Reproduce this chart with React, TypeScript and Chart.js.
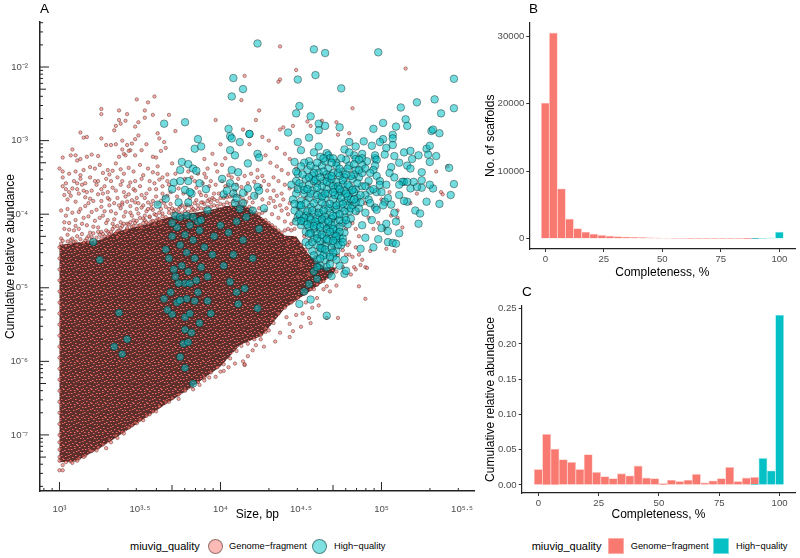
import React, { useEffect, useRef } from "react";
import { Chart, registerables } from "chart.js";
Chart.register(...registerables);

// Panel A values are log10(size), log10(abundance).
const denseCloudEnvelope = [
  [3.0,-4.42],[3.12,-4.38],[3.25,-4.35],[3.35,-4.24],[3.44,-4.19],[3.55,-4.13],[3.66,-4.05],[3.77,-4.0],[3.87,-3.97],[3.96,-3.93],[4.03,-3.89],[4.15,-3.88],[4.26,-4.05],[4.4,-4.29],[4.47,-4.3],[4.55,-4.55],[4.65,-4.72],[4.72,-4.72],[4.7,-4.82],[4.65,-4.9],[4.52,-5.1],[4.4,-5.28],[4.26,-5.65],[4.12,-5.78],[4.0,-6.07],[3.81,-6.37],[3.62,-6.64],[3.44,-6.91],[3.25,-7.18],[3.1,-7.36],[3.0,-7.37],[3.0,-4.42],
];
const fragmentUpper = [
  [3.13,-2.89],[3.15,-2.96],[3.17,-2.95],[3.02,-3.23],[3.08,-3.12],[3.07,-3.2],[3.1,-3.2],[3.11,-3.27],[3.13,-3.25],[3.17,-3.22],[3.2,-3.19],[3.24,-3.21],[3.26,-2.97],[3.26,-2.57],[3.26,-2.64],[3.32,-3.06],[3.29,-3.06],[3.35,-3.05],[3.37,-2.59],[3.37,-2.72],[3.42,-2.64],[3.38,-2.77],[3.41,-2.73],[3.35,-2.8],[3.34,-2.86],[3.39,-3.0],[3.42,-3.06],[3.48,-2.44],[3.55,-2.48],[3.59,-2.4],[3.53,-2.59],[3.53,-2.69],[3.58,-2.65],[3.68,-2.65],[3.49,-2.75],[3.47,-2.81],[3.47,-2.98],[3.49,-2.93],[3.54,-3.05],[3.61,-2.9],[3.62,-2.97],[3.65,-3.02],[3.72,-2.87],[3.97,-2.72],[3.58,-3.22],[3.6,-3.23],[3.66,-3.1],[3.63,-3.14],[3.44,-3.13],[3.47,-3.2],[3.51,-3.13],[3.39,-3.12],[3.4,-3.18],[3.37,-3.22],[3.41,-3.2],[3.43,-3.14],[3.45,-3.04],
  [3.0,-3.38],[3.02,-3.42],[3.06,-3.45],[3.1,-3.42],[3.13,-3.47],[3.15,-3.4],[3.19,-3.36],[3.22,-3.38],[3.25,-3.33],[3.27,-3.44],[3.3,-3.4],[3.31,-3.46],[3.33,-3.41],[3.35,-3.31],[3.38,-3.39],[3.4,-3.45],[3.43,-3.37],[3.46,-3.42],[3.5,-3.33],[3.52,-3.47],[3.55,-3.38],[3.58,-3.43],[3.61,-3.35],[3.64,-3.5],[3.67,-3.46],[3.7,-3.31],[3.9,-3.25],[3.95,-3.18],[3.97,-3.32],[4.0,-3.05],[4.03,-3.24],
  [3.02,-3.62],[3.03,-3.74],[3.05,-3.8],[3.08,-3.65],[3.1,-3.83],[3.12,-3.72],[3.14,-3.6],[3.16,-3.77],[3.18,-3.85],[3.2,-3.68],[3.22,-3.55],[3.24,-3.73],[3.26,-3.82],[3.28,-3.62],[3.3,-3.7],[3.32,-3.55],[3.34,-3.85],[3.36,-3.78],[3.38,-3.6],[3.4,-3.7],[3.42,-3.83],[3.44,-3.57],[3.46,-3.66],[3.48,-3.78],[3.5,-3.62],[3.52,-3.88],[3.54,-3.72],[3.56,-3.55],[3.58,-3.82],[3.6,-3.66],[3.62,-3.53],[3.64,-3.72],[3.66,-3.9],[3.68,-3.6],[3.04,-3.58],[3.07,-3.75],[3.11,-3.58],[3.15,-3.68],[3.19,-3.79],[3.23,-3.6],[3.27,-3.72],[3.31,-3.8],[3.35,-3.68],[3.39,-3.87],[3.43,-3.73],[3.47,-3.55],[3.51,-3.74],[3.55,-3.84],[3.59,-3.58],[3.63,-3.82],[3.9,-3.45],[3.94,-3.55],[3.98,-3.42],[4.03,-3.62],[3.96,-3.72],[3.93,-3.8],[3.92,-3.38],[4.01,-3.33],[4.05,-3.47],[4.1,-3.6],[3.82,-3.5],[3.85,-3.64],[3.88,-3.74],
  [3.01,-3.95],[3.04,-4.02],[3.06,-4.12],[3.08,-3.98],[3.1,-4.08],[3.12,-4.2],[3.13,-3.93],[3.15,-4.05],[3.17,-4.15],[3.19,-4.25],[3.2,-3.97],[3.22,-4.09],[3.24,-4.18],[3.26,-3.9],[3.27,-4.02],[3.29,-4.12],[3.3,-4.24],[3.32,-3.96],[3.34,-4.07],[3.36,-4.16],[3.38,-3.92],[3.4,-4.03],[3.42,-4.13],[3.44,-3.98],[3.46,-4.08],[3.48,-3.93],[3.5,-4.05],[3.52,-4.12],[3.54,-3.96],[3.56,-4.04],[3.58,-3.94],[3.6,-4.09],[3.62,-3.98],[3.64,-4.03],[3.03,-4.2],[3.05,-4.28],[3.07,-4.35],[3.09,-4.22],[3.11,-4.3],[3.14,-4.27],[3.16,-4.36],[3.18,-4.3],[3.21,-4.26],[3.23,-4.32],[3.25,-4.28],[3.28,-4.3],[3.31,-4.27],[3.33,-4.2],[3.35,-4.26],[3.37,-4.22],[3.39,-4.16],[3.41,-4.23],[3.43,-4.14],[3.45,-4.17],[3.47,-4.12],[3.49,-4.16],[3.51,-4.18],[3.53,-4.08],[3.55,-4.13],[3.57,-4.1],[3.59,-4.14],[3.61,-4.06],[3.63,-4.12],
  [3.68,-3.98],[3.7,-3.92],[3.72,-4.0],[3.74,-3.93],[3.76,-3.99],[3.78,-3.91],[3.8,-3.97],[3.82,-3.9],[3.84,-3.95],[3.86,-3.88],[3.88,-3.92],[3.9,-3.86],[3.92,-3.9],[3.94,-3.84],[3.96,-3.88],[3.98,-3.82],[4.0,-3.86],[4.02,-3.78],[4.04,-3.84],[4.06,-3.76],[4.08,-3.82],[4.1,-3.75],[4.12,-3.85],[4.14,-3.8],[4.16,-3.72],[4.18,-3.78],[4.2,-3.84],[4.22,-3.75],[4.24,-3.92],[4.26,-3.8],[4.28,-3.95],[4.3,-3.85],[4.32,-4.0],[4.34,-3.9],[4.36,-4.05],[4.38,-3.95],[4.4,-4.1],[4.42,-4.0],
];
const fragmentUpperExtra = [
  [3.01,-4.33],[3.03,-4.11],[3.05,-3.93],[3.06,-4.21],[3.09,-4.38],[3.1,-4.16],[3.12,-3.97],[3.14,-4.13],[3.16,-3.89],[3.18,-4.03],[3.2,-4.35],[3.21,-4.17],[3.23,-3.94],[3.25,-4.05],[3.26,-4.24],[3.28,-3.96],[3.3,-4.08],[3.31,-3.88],[3.33,-4.13],[3.35,-3.99],[3.36,-4.31],[3.38,-4.11],[3.39,-3.84],[3.41,-3.97],[3.42,-4.21],[3.44,-3.89],[3.45,-4.02],[3.47,-3.84],[3.49,-3.99],[3.51,-3.91],[3.53,-4.02],[3.55,-3.93],[3.57,-3.87],[3.59,-4.0],[3.61,-3.86],[3.63,-3.93],[3.65,-3.85],[3.67,-3.75],[3.69,-3.86],[3.71,-3.96],[3.73,-3.76],[3.75,-3.9],[3.77,-3.72],[3.79,-3.87],[3.81,-3.78],[3.83,-3.93],[3.85,-3.81],[3.87,-3.7],[3.89,-3.84],[3.91,-3.75],[3.93,-3.62],[3.95,-3.78],[3.97,-3.6],[3.99,-3.72],[4.01,-3.55],[4.03,-3.75],[4.05,-3.6],[4.07,-3.5],[4.09,-3.68],[4.11,-3.52],[4.13,-3.63],[4.15,-3.48],[4.17,-3.58],[4.19,-3.45],[4.21,-3.56],[4.23,-3.5],[4.25,-3.62],[4.27,-3.55],[4.29,-3.68],[4.31,-3.78],[4.33,-3.82],[4.35,-3.75],[4.37,-3.88],[4.39,-3.8],[4.41,-3.92],[4.43,-3.85],
  [3.02,-3.5],[3.04,-3.66],[3.06,-3.7],[3.09,-3.55],[3.11,-3.66],[3.13,-3.52],[3.16,-3.58],[3.17,-3.7],[3.19,-3.5],[3.21,-3.82],[3.24,-3.55],[3.26,-3.66],[3.29,-3.52],[3.3,-3.78],[3.33,-3.64],[3.36,-3.5],[3.37,-3.88],[3.39,-3.55],[3.41,-3.76],[3.43,-3.62],[3.45,-3.81],[3.47,-3.68],[3.49,-3.85],[3.51,-3.52],[3.53,-3.78],[3.56,-3.66],[3.57,-3.92],[3.6,-3.76],[3.61,-3.45],[3.64,-3.62],[3.65,-3.78],[3.67,-3.55],[3.69,-3.7],[3.72,-3.45],[3.74,-3.65],[3.78,-3.52],[3.8,-3.42],[3.84,-3.55],[3.86,-3.45],[3.89,-3.58],[3.91,-3.5],
];
const fragmentEdge = [
  [3.01,-4.4],[3.02,-4.36],[3.04,-4.43],[3.05,-4.37],[3.07,-4.4],[3.08,-4.33],[3.1,-4.37],[3.11,-4.42],[3.13,-4.34],[3.15,-4.39],[3.17,-4.33],[3.18,-4.38],[3.2,-4.31],[3.22,-4.37],[3.24,-4.24],[3.26,-4.33],[3.27,-4.27],[3.29,-4.22],[3.3,-4.3],[3.32,-4.24],[3.34,-4.17],[3.36,-4.23],[3.38,-4.19],[3.4,-4.13],[3.42,-4.19],[3.44,-4.11],[3.46,-4.16],[3.48,-4.09],[3.5,-4.15],[3.52,-4.06],[3.54,-4.11],[3.56,-4.03],[3.58,-4.09],[3.6,-4.01],[3.62,-4.07],[3.64,-3.99],[3.66,-4.04],[3.68,-3.93],[3.7,-4.0],[3.72,-3.94],[3.74,-3.98],[3.76,-3.88],[3.78,-3.96],[3.8,-3.88],[3.82,-3.95],[3.84,-3.85],[3.86,-3.93],[3.88,-3.84],[3.9,-3.93],[3.92,-3.82],[3.94,-3.9],[3.96,-3.8],[3.98,-3.89],[4.0,-3.78],[4.02,-3.87],[4.04,-3.77],[4.06,-3.86],[4.08,-3.74],[4.1,-3.85],[4.12,-3.76],[4.14,-3.86],[4.16,-3.83],[4.18,-3.9],[4.2,-3.93],[4.22,-3.98],[4.24,-4.0],[4.26,-3.98],[4.28,-4.08],[4.3,-4.12],[4.32,-4.15],[4.34,-4.18],[4.36,-4.22],[4.38,-4.25],[4.4,-4.22],[4.42,-4.2],[4.44,-4.13],[4.46,-4.08],[4.48,-4.04],
  [3.0,-4.45],[3.0,-4.6],[3.0,-4.75],[3.0,-4.9],[3.0,-5.05],[3.0,-5.2],[3.0,-5.35],[3.0,-5.5],[3.0,-5.65],[3.0,-5.8],[3.0,-5.95],[3.0,-6.1],[3.0,-6.25],[3.0,-6.4],[3.0,-6.55],[3.0,-6.7],[3.0,-6.85],[3.0,-7.0],[3.0,-7.1],[3.0,-7.2],[3.0,-7.3],[3.0,-7.35],
  [3.04,-7.37],[3.07,-7.36],[3.12,-7.32],[3.16,-7.28],[3.2,-7.22],[3.24,-7.17],[3.27,-7.13],[3.31,-7.07],[3.35,-7.01],[3.39,-6.96],[3.43,-6.9],[3.47,-6.83],[3.5,-6.79],[3.54,-6.74],[3.58,-6.68],[3.62,-6.61],[3.66,-6.55],[3.7,-6.5],[3.74,-6.45],[3.78,-6.38],[3.82,-6.34],[3.86,-6.28],[3.9,-6.22],[3.94,-6.15],[3.98,-6.08],[4.02,-6.04],[4.06,-5.96],[4.1,-5.86],[4.13,-5.79],[4.17,-5.76],[4.21,-5.7],[4.25,-5.64],[4.28,-5.55],[4.32,-5.42],[4.36,-5.35],[4.4,-5.27],[4.44,-5.2],[4.48,-5.13],[4.52,-5.08],[4.56,-5.02],[4.6,-4.96],[4.64,-4.91],[4.68,-4.84],[4.72,-4.78],[4.76,-4.72],[4.8,-4.55],
];
const fragmentRight = [
  [4.15,-2.12],[4.37,-1.72],[4.47,-2.04],[4.37,-2.17],[4.36,-2.2],[4.13,-2.45],[4.24,-2.59],[4.22,-2.72],[4.14,-2.85],[4.18,-3.05],[4.26,-2.95],[4.37,-2.85],[4.39,-2.82],[4.45,-2.8],[4.54,-2.74],[4.56,-2.8],[4.63,-2.73],[4.72,-2.75],[4.73,-2.92],[4.8,-2.9],[4.82,-2.56],[5.15,-2.02],[4.3,-3.0],[4.35,-3.1],[4.28,-3.2],[4.31,-3.3],[4.35,-3.35],[4.4,-3.18],[4.43,-3.25],[4.38,-3.4],[4.42,-3.45],[4.47,-3.38],[4.33,-3.5],[4.3,-3.6],[4.36,-3.55],[4.4,-3.6],[4.26,-3.48],[4.23,-3.4],[4.33,-3.68],[4.38,-3.72],[4.43,-3.65],
  [5.34,-3.42],[5.41,-3.35],[5.37,-3.7],[5.38,-3.73],[5.22,-3.72],[5.18,-3.85],[5.1,-3.95],[5.06,-4.02],[5.1,-4.05],[5.13,-4.18],[5.02,-4.2],[5.08,-4.5],[5.03,-4.47],[4.95,-4.2],[4.98,-4.12],[4.93,-4.5],[4.88,-4.62],[4.9,-4.72],[4.91,-4.73],[4.86,-4.55],[4.83,-4.72],[4.84,-4.45],[4.92,-4.05],[4.95,-3.9],[5.0,-3.8],[5.05,-3.7],
  [4.46,-4.35],[4.44,-4.22],[4.42,-4.4],[4.47,-4.5],[4.44,-4.62],[4.5,-4.7],[4.48,-4.85],[4.55,-4.82],[4.82,-4.58],[4.86,-4.3],[4.82,-4.12],[4.9,-3.85],[4.85,-3.98],[4.92,-3.6],[4.78,-4.55],[4.8,-4.38],[4.6,-4.95],[4.64,-5.02],
  [4.5,-4.42],[4.53,-4.48],[4.56,-4.36],[4.59,-4.58],[4.61,-4.47],[4.64,-4.38],[4.67,-4.64],[4.7,-4.46],[4.73,-4.56],[4.76,-4.49],[4.79,-4.42],[4.52,-4.3],[4.57,-4.24],[4.61,-4.3],[4.66,-4.16],[4.7,-4.08],[4.74,-4.14],[4.78,-4.2],[4.46,-4.2],[4.5,-4.06],[4.55,-3.98],[4.6,-3.95],[4.48,-3.92],[4.53,-3.78],[4.47,-3.66],[4.63,-3.46],[4.72,-3.6],[4.8,-3.85],[4.84,-4.2],[4.49,-4.6],
];
const fragmentLower = [
  [4.66,-5.41],[4.73,-5.41],[4.9,-5.15],[4.86,-4.98],[4.87,-4.69],[4.84,-4.75],[4.81,-4.82],[4.72,-4.97],[4.61,-5.24],[4.56,-5.48],[4.55,-5.41],[4.5,-5.53],[4.45,-5.59],[4.43,-5.67],[4.34,-5.73],[4.27,-5.8],[4.37,-5.61],[4.17,-5.93],[4.15,-6.05],[4.14,-6.0],[4.2,-5.85],[4.3,-5.58],[4.28,-5.6],[4.43,-5.49],[4.47,-5.37],[4.51,-5.35],[4.57,-5.27],[4.6,-5.14],[4.62,-4.92],[4.68,-5.05],[4.66,-4.98],[4.58,-5.02],[4.53,-5.2],[4.41,-5.4],[4.33,-5.48],[4.25,-5.7],[4.22,-5.78],
  [3.74,-6.51],[3.52,-6.8],[3.48,-6.84],[3.45,-6.87],[3.29,-7.18],[3.23,-7.21],[3.19,-7.21],[3.11,-7.35],[3.0,-7.48],[3.02,-7.48],[3.02,-7.41],[4.02,-6.13],[4.15,-6.04],[4.09,-6.03],[3.97,-6.21],[3.9,-6.26],[3.87,-6.32],[3.83,-6.38],[3.78,-6.4],[3.68,-6.55],[3.6,-6.68],[3.56,-6.72],[3.4,-6.98],[3.36,-7.04],[3.32,-7.1],[3.15,-7.3],[3.08,-7.38],[4.05,-6.08],[4.0,-6.14],[3.93,-6.22],
];
const highUpper = [
  [4.23,-1.68],[4.08,-2.15],[4.14,-2.3],[4.07,-2.4],[3.65,-2.77],[3.78,-2.75],[4.05,-2.84],[3.86,-2.98],[3.84,-3.11],[3.88,-3.08],[4.06,-2.94],[4.07,-2.97],[4.12,-3.02],[4.18,-2.91],[4.06,-3.13],[4.09,-3.2],[4.17,-3.31],[4.23,-3.18],[4.24,-3.23],[3.76,-3.29],[3.8,-3.32],[3.83,-3.38],[3.85,-3.41],[3.75,-3.4],[3.71,-3.57],[3.75,-3.55],[3.8,-3.55],[3.87,-3.58],[4.07,-3.4],[4.11,-3.43],[4.01,-3.52],[4.06,-3.58],[4.09,-3.63],[4.08,-3.72],[3.7,-3.66],[3.78,-3.67],[3.82,-3.72],[3.81,-3.7],[3.91,-3.66],[3.66,-3.79],[3.61,-3.87],[3.74,-3.84],[3.8,-3.84],[4.02,-3.73],[4.14,-3.71],[4.23,-3.63],[4.09,-3.85],[3.72,-4.02],[3.75,-4.04],[3.79,-4.02],[3.83,-4.04],[3.92,-3.95],[4.14,-3.85],[3.88,-4.08],[4.04,-3.68],[4.1,-3.78],[4.17,-3.65],[4.21,-3.75],[4.24,-3.68],[4.27,-3.92],[4.2,-3.95],[4.12,-3.93],[4.16,-4.04],
];
const highMid = [
  [3.69,-5.06],[3.78,-5.4],[3.81,-5.35],[3.87,-5.48],[3.78,-5.57],[3.82,-5.61],[3.77,-5.76],[3.8,-5.74],[3.75,-5.94],[3.78,-6.09],[3.83,-6.3],[3.42,-5.7],[3.34,-5.8],[3.39,-5.9],[3.37,-5.34],[3.65,-5.15],[3.7,-5.36],[3.67,-5.3],[3.73,-5.2],[3.79,-5.15],[3.84,-5.18],[3.92,-5.18],[3.94,-5.35],[3.78,-4.94],[3.81,-4.94],[3.74,-4.94],[3.86,-5.06],[3.75,-5.17],[4.11,-5.22],[4.1,-5.06],[4.06,-4.92],[4.15,-5.01],[4.23,-5.28],[3.72,-4.85],[3.76,-4.7],[3.8,-4.78],[3.85,-4.9],[3.68,-4.6],[3.71,-4.75],[3.66,-4.48],[3.7,-4.3],[3.75,-4.42],[3.79,-4.52],[3.84,-4.6],[3.88,-4.72],[3.92,-4.85],[3.73,-4.18],[3.78,-4.28],[3.83,-4.35],[3.87,-4.22],[3.9,-4.45],[3.95,-4.55],[3.7,-4.12],[3.81,-4.15],[3.86,-4.1],[4.05,-4.25],[4.08,-4.55],[4.02,-4.7],[4.14,-4.35],[4.2,-4.6],[4.24,-4.2],[4.1,-4.1],[3.25,-4.62],[3.21,-4.38],[4.0,-4.15],[3.96,-4.3],
];
const highCluster = [
  [4.58,-1.76],[4.65,-1.81],[4.98,-1.8],[4.48,-2.17],[4.59,-2.11],[4.75,-2.29],[4.49,-2.53],[4.47,-2.63],[4.56,-2.67],[4.61,-2.77],[4.65,-2.8],[4.61,-2.86],[4.74,-2.82],[4.18,-2.91],[4.42,-2.89],[4.55,-2.96],[4.48,-3.02],[4.5,-3.13],[4.58,-3.16],[4.61,-3.08],[4.8,-3.02],[4.84,-3.08],[4.77,-3.12],[4.89,-3.01],[4.94,-3.07],
  [4.66,-3.17],[4.67,-3.2],[4.68,-3.24],[4.62,-3.22],[4.55,-3.28],[4.52,-3.3],[4.46,-3.29],[4.5,-3.35],[4.54,-3.4],[4.59,-3.38],[4.63,-3.34],[4.67,-3.38],[4.72,-3.3],[4.72,-3.34],[4.76,-3.42],[4.78,-3.26],[4.83,-3.2],[4.84,-3.25],[4.88,-3.18],[4.88,-3.24],[4.91,-3.28],[4.96,-3.24],[4.96,-3.2],[4.97,-3.26],[4.8,-3.34],[4.84,-3.4],[4.88,-3.33],[4.96,-3.34],[4.95,-3.4],[4.97,-3.48],[4.92,-3.55],[4.99,-3.55],[4.99,-3.6],[4.86,-3.5],[4.82,-3.52],[4.77,-3.5],[4.74,-3.48],[4.7,-3.44],[4.66,-3.46],[4.61,-3.44],[4.57,-3.48],[4.53,-3.52],[4.47,-3.55],[4.44,-3.6],[4.49,-3.58],[4.55,-3.6],[4.6,-3.58],[4.64,-3.55],[4.68,-3.58],[4.72,-3.56],[4.76,-3.6],[4.8,-3.62],[4.84,-3.66],[4.88,-3.62],[4.93,-3.68],[4.97,-3.7],[4.9,-3.74],[4.85,-3.78],[4.8,-3.72],[4.75,-3.7],[4.71,-3.66],[4.66,-3.66],[4.62,-3.7],[4.57,-3.68],[4.52,-3.72],[4.47,-3.72],[4.45,-3.8],[4.5,-3.82],[4.55,-3.78],[4.6,-3.8],[4.65,-3.78],[4.7,-3.8],[4.74,-3.84],[4.78,-3.82],[4.82,-3.88],[4.86,-3.92],[4.8,-3.96],[4.75,-3.92],[4.7,-3.9],[4.65,-3.88],[4.61,-3.92],[4.56,-3.9],[4.51,-3.94],[4.46,-3.95],[4.48,-4.04],[4.53,-4.02],[4.58,-4.0],[4.63,-4.0],[4.68,-3.98],[4.72,-4.02],[4.77,-4.04],[4.81,-4.06],[4.76,-4.12],[4.71,-4.12],[4.66,-4.08],[4.61,-4.1],[4.56,-4.12],[4.5,-4.15],[4.53,-4.24],[4.58,-4.2],[4.62,-4.22],[4.67,-4.18],[4.72,-4.22],[4.77,-4.25],[4.74,-4.32],[4.69,-4.3],[4.64,-4.32],[4.58,-4.32],[4.53,-4.38],[4.6,-4.42],[4.65,-4.42],[4.7,-4.4],[4.75,-4.42],[4.72,-4.5],[4.67,-4.52],[4.62,-4.52],[4.57,-4.5],[4.6,-4.62],[4.65,-4.62],[4.7,-4.58],[4.66,-4.72],[4.62,-4.7],[4.58,-4.78],[4.77,-4.62],[4.74,-4.7],[4.69,-4.84],[4.77,-4.81],[4.78,-4.77],[4.49,-5.22],[4.56,-5.16],[4.66,-5.38],[4.55,-4.95],[4.52,-5.05],[4.6,-4.88],
  [4.48,-3.45],[4.51,-3.62],[4.58,-3.55],[4.63,-3.62],[4.67,-3.5],[4.7,-3.62],[4.73,-3.74],[4.77,-3.68],[4.81,-3.8],[4.83,-3.7],[4.87,-3.84],[4.9,-3.62],[4.92,-3.8],[4.95,-3.66],[4.49,-3.88],[4.53,-3.85],[4.58,-3.85],[4.63,-3.84],[4.67,-3.92],[4.72,-3.94],[4.77,-3.96],[4.79,-3.88],[4.84,-3.84],[4.47,-4.1],[4.52,-4.1],[4.55,-4.04],[4.6,-4.05],[4.65,-4.03],[4.69,-4.06],[4.74,-4.08],[4.79,-4.14],[4.55,-4.18],[4.6,-4.15],[4.64,-4.14],[4.69,-4.15],[4.74,-4.17],[4.55,-4.27],[4.6,-4.27],[4.66,-4.26],[4.71,-4.27],[4.76,-4.33],[4.55,-4.42],[4.62,-4.37],[4.67,-4.36],[4.72,-4.35],[4.58,-4.56],[4.63,-4.46],[4.69,-4.46],[4.73,-4.42],[4.64,-4.56],[4.7,-4.52],[4.6,-4.72],[4.68,-4.68],[4.72,-4.62],[4.56,-3.34],[4.6,-3.3],[4.65,-3.28],[4.7,-3.24],[4.75,-3.24],[4.79,-3.38],[4.83,-3.46],[4.88,-3.44],[4.9,-3.38],[4.93,-3.44],[4.86,-3.26],[4.8,-3.16],[4.64,-3.42],[4.58,-3.44],
  [4.47,-3.42],[4.51,-3.46],[4.55,-3.5],[4.59,-3.53],[4.62,-3.5],[4.66,-3.56],[4.69,-3.52],[4.73,-3.62],[4.76,-3.54],[4.79,-3.6],[4.82,-3.67],[4.85,-3.58],[4.48,-3.66],[4.52,-3.67],[4.56,-3.72],[4.6,-3.74],[4.63,-3.76],[4.67,-3.72],[4.71,-3.74],[4.75,-3.78],[4.79,-3.76],[4.83,-3.8],[4.87,-3.74],[4.46,-3.86],[4.5,-3.88],[4.54,-3.96],[4.57,-3.95],[4.61,-3.98],[4.64,-3.95],[4.68,-3.86],[4.72,-3.88],[4.76,-3.86],[4.81,-3.92],[4.84,-3.96],[4.49,-4.0],[4.52,-4.05],[4.56,-4.07],[4.59,-4.1],[4.63,-4.07],[4.67,-4.1],[4.7,-4.02],[4.74,-4.0],[4.78,-4.08],[4.5,-4.09],[4.54,-4.14],[4.58,-4.16],[4.62,-4.17],[4.66,-4.2],[4.7,-4.2],[4.74,-4.24],[4.56,-4.26],[4.6,-4.33],[4.63,-4.28],[4.68,-4.24],[4.72,-4.3],[4.57,-4.38],[4.62,-4.46],[4.66,-4.34],[4.7,-4.36],[4.76,-4.38],[4.65,-4.48],[4.68,-4.58],[4.62,-4.6],[4.6,-3.64],[4.54,-3.66],[4.65,-3.72],[4.7,-3.7],[4.74,-3.66],[4.78,-3.72],[4.69,-3.48],[4.73,-3.44],[4.81,-3.48],[4.74,-3.38],[4.78,-3.46],[4.86,-3.4],[4.83,-3.32],[4.64,-3.24],[4.69,-3.3],
];
const highRight = [
  [5.45,-2.16],[5.22,-2.48],[5.33,-2.44],[5.45,-2.56],[5.12,-2.55],[5.37,-2.63],[5.15,-2.71],[5.16,-2.8],[5.01,-2.76],[4.95,-2.84],[5.09,-2.81],[5.31,-2.87],[5.32,-2.85],[5.36,-2.9],[5.07,-2.92],[5.07,-2.97],[5.01,-2.98],[4.99,-3.02],[5.03,-3.1],[5.07,-3.06],[5.28,-3.11],[5.3,-3.07],[5.29,-3.19],[5.34,-3.21],[5.3,-3.29],[5.42,-3.37],[5.02,-3.19],[5.08,-3.21],[5.14,-3.16],[5.18,-3.14],[5.23,-3.2],[5.19,-3.25],[5.11,-3.3],[5.16,-3.34],[5.18,-3.38],[5.06,-3.36],[5.05,-3.44],[5.25,-3.43],[5.45,-3.59],[5.43,-3.74],[5.36,-3.86],[5.28,-3.83],[5.32,-3.65],[5.3,-3.6],[5.25,-3.64],[5.22,-3.63],[5.18,-3.65],[5.14,-3.56],[5.13,-3.56],[5.2,-3.56],[5.25,-3.54],[5.11,-3.6],[5.16,-3.56],[5.11,-3.74],[5.16,-3.83],[5.14,-3.82],[5.02,-3.83],[5.04,-3.78],[5.01,-3.88],[5.06,-3.87],[5.08,-3.98],[5.09,-4.1],[5.03,-4.13],[5.21,-3.95],[5.24,-3.99],[5.23,-4.13],[5.11,-4.26],[5.04,-4.38],[5.07,-4.39],[5.09,-4.4],[4.98,-4.34],[5.0,-4.19],[5.04,-4.23],[4.9,-4.32],[4.95,-4.45],[4.96,-3.91],[4.97,-3.94],[4.94,-4.08],[4.87,-4.47],[5.0,-3.7],[5.03,-3.6],[5.08,-3.5],[4.93,-3.85],[4.9,-3.98],[4.88,-4.15],
];

const xTickValues = [3, 3.5, 4, 4.5, 5, 5.5];
const xTickLabels = ["10³", "10³·⁵", "10⁴", "10⁴·⁵", "10⁵", "10⁵·⁵"];
const yTickValues = [-7, -6, -5, -4, -3, -2];
const yTickLabels = ["10⁻⁷", "10⁻⁶", "10⁻⁵", "10⁻⁴", "10⁻³", "10⁻²"];

// Panels B and C share the histogram bin centres.
const binCentres = [0,3.45,6.9,10.34,13.79,17.24,20.69,24.14,27.59,31.03,34.48,37.93,41.38,44.83,48.28,51.72,55.17,58.62,62.07,65.52,68.97,72.41,75.86,79.31,82.76,86.21,89.66,93.1,96.55,100];
const scaffoldsFragment = [20100,30500,7400,2900,1500,1000,700,500,400,320,260,210,170,130,100,70,60,50,40,40,30,30,30,25,25,20,20,0,0,0];
const scaffoldsHigh = [0,0,0,0,0,0,0,0,0,0,0,0,0,0,0,0,0,0,0,0,0,0,0,0,0,0,15,50,80,1000];
const abundanceFragment = [0.022,0.072,0.051,0.036,0.032,0.022,0.043,0.018,0.012,0.009,0.016,0.013,0.027,0.01,0.009,0.002,0.007,0.005,0.007,0.015,0.003,0.006,0.009,0.025,0.005,0.01,0.01,0,0,0];
const abundanceHigh = [0,0,0,0,0,0,0,0,0,0,0,0,0,0,0,0,0,0,0,0,0,0,0,0,0,0,0.001,0.038,0.02,0.241];

const FONT = "'Liberation Sans', Arial, sans-serif";
const AXIS = "#222222";
const TICK_TEXT = "#4D4D4D";

const toPoints = (pairs: number[][]) => pairs.map(([x, y]) => ({ x: 10 ** x, y: 10 ** y }));

function densePattern(): CanvasPattern | string {
  const tile = document.createElement("canvas");
  tile.width = 14;
  tile.height = 14;
  const g = tile.getContext("2d");
  if (!g) return "#7a3d3a";
  g.fillStyle = "#5e302d";
  g.fillRect(0, 0, 14, 14);
  const spots = [[1,1],[4,0],[8,2],[12,1],[3,4],[6,3],[10,4],[0,6],[5,7],[9,8],[12,7],[2,9],[7,11],[11,11],[0,12],[4,12],[13,4],[9,13],[13,10],[6,10]];
  spots.forEach(([x, y], i) => {
    g.fillStyle = i % 3 === 0 ? "#fb6d62" : i % 3 === 1 ? "#e0625a" : "#f26a60";
    g.fillRect(x, y, 1, 1);
    g.fillStyle = "rgba(225,105,98,0.55)";
    g.fillRect(x + 1, y, 1, 1);
  });
  return g.createPattern(tile, "repeat") || "#7a3d3a";
}

const logTickPlugin = {
  id: "logTicks",
  afterDatasetsDraw(chart: any) {
    const { ctx, scales, chartArea } = chart;
    const multipliers = [1, 2, 3, 4, 5, 6, 7, 8, 9];
    const len = (m: number) => (m === 1 ? 9 : m === 5 ? 6 : 3);
    ctx.save();
    ctx.strokeStyle = AXIS;
    ctx.lineWidth = 1;
    for (let d = 2; d <= 5; d++) {
      multipliers.forEach((m) => {
        const v = m * 10 ** d;
        if (v < scales.x.min || v > scales.x.max) return;
        const p = scales.x.getPixelForValue(v);
        ctx.beginPath();
        ctx.moveTo(p, chartArea.bottom);
        ctx.lineTo(p, chartArea.bottom - len(m));
        ctx.stroke();
      });
    }
    for (let d = -8; d <= -2; d++) {
      multipliers.forEach((m) => {
        const v = m * 10 ** d;
        if (v < scales.y.min || v > scales.y.max) return;
        const p = scales.y.getPixelForValue(v);
        ctx.beginPath();
        ctx.moveTo(chartArea.left, p);
        ctx.lineTo(chartArea.left + len(m), p);
        ctx.stroke();
      });
    }
    ctx.restore();
  },
};

const fixedBox = (size: number, key: "width" | "height") => (scale: any) => {
  scale[key] = size;
};

function histogramConfig(
  fragment: number[],
  high: number[],
  yMin: number,
  yMax: number,
  xMin: number,
  xMax: number,
  yTitle: string,
  yStep: number,
  yFormat: (v: number) => string,
  yWidth: number,
  xHeight: number,
  padding: any,
) {
  const toBars = (vals: number[]) => binCentres.map((c, i) => ({ x: c, y: vals[i] }));
  const dataset = (label: string, vals: number[], fill: string, edge: string) => ({
    label,
    data: toBars(vals),
    backgroundColor: fill,
    borderColor: edge,
    borderWidth: 0.8,
    barPercentage: 1,
    categoryPercentage: 1,
  });
  return {
    type: "bar",
    data: {
      datasets: [
        dataset("High-quality", high, "rgba(0,191,196,0.98)", "rgba(150,232,235,0.75)"),
        dataset("Genome-fragment", fragment, "rgba(248,118,109,0.98)", "rgba(255,190,185,0.75)"),
      ],
    },
    options: {
      animation: false,
      responsive: false,
      devicePixelRatio: 1,
      layout: { padding },
      plugins: { legend: { display: false }, tooltip: { enabled: false } },
      scales: {
        x: {
          type: "linear",
          stacked: true,
          offset: false,
          min: xMin,
          max: xMax,
          afterBuildTicks: (s: any) => {
            s.ticks = [0, 25, 50, 75, 100].map((value) => ({ value }));
          },
          afterFit: fixedBox(xHeight, "height"),
          grid: { display: true, offset: false, drawOnChartArea: false, drawTicks: true, tickLength: 3, color: "#333333" },
          border: { display: true, color: AXIS, width: 1.2 },
          ticks: { color: TICK_TEXT, font: { family: FONT, size: 9.6 }, padding: 2, maxRotation: 0 },
          title: { display: true, text: "Completeness, %", color: "#000", font: { family: FONT, size: 12 }, padding: 0 },
        },
        y: {
          type: "linear",
          stacked: true,
          min: yMin,
          max: yMax,
          afterBuildTicks: (s: any) => {
            const out = [];
            for (let v = 0; v <= yMax + 1e-9; v += yStep) out.push({ value: Number(v.toFixed(4)) });
            s.ticks = out;
          },
          afterFit: fixedBox(yWidth, "width"),
          grid: { display: true, drawOnChartArea: false, drawTicks: true, tickLength: 3, color: "#333333" },
          border: { display: true, color: AXIS, width: 1.2 },
          ticks: { color: TICK_TEXT, font: { family: FONT, size: 9.6 }, padding: 2, callback: (v: any) => yFormat(Number(v)) },
          title: { display: true, text: yTitle, color: "#000", font: { family: FONT, size: 12 }, padding: 0 },
        },
      },
    },
  };
}

function useChart(makeConfig: () => any) {
  const ref = useRef<HTMLCanvasElement | null>(null);
  useEffect(() => {
    if (!ref.current) return;
    const chart = new Chart(ref.current, makeConfig());
    return () => chart.destroy();
  }, []);
  return ref;
}

const scatterConfig = () => {
  const smallPoint = {
    pointRadius: 1.7,
    pointBackgroundColor: "rgba(248,118,109,0.6)",
    pointBorderColor: "rgba(70,30,30,0.55)",
    pointBorderWidth: 0.8,
    showLine: false,
  };
  const bigPoint = {
    pointRadius: 3.8,
    pointBackgroundColor: "rgba(0,191,196,0.55)",
    pointBorderColor: "rgba(0,0,0,0.42)",
    pointBorderWidth: 0.9,
    showLine: false,
  };
  return {
    type: "scatter",
    data: {
      datasets: [
        {
          label: "Genome-fragment (dense cloud)",
          order: 3,
          data: toPoints(denseCloudEnvelope),
          showLine: true,
          fill: "shape",
          pointRadius: 0,
          borderWidth: 0,
          backgroundColor: densePattern(),
          tension: 0,
        },
        { label: "Genome-fragment", order: 2, data: toPoints([...fragmentUpper, ...fragmentUpperExtra, ...fragmentEdge, ...fragmentRight, ...fragmentLower]), ...smallPoint },
        { label: "High-quality", order: 1, data: toPoints([...highMid, ...highUpper, ...highCluster, ...highRight]), ...bigPoint },
      ],
    },
    options: {
      animation: false,
      responsive: false,
      devicePixelRatio: 1,
      layout: { padding: { left: 3, right: 5.3, top: 22, bottom: 0 } },
      plugins: { legend: { display: false }, tooltip: { enabled: false } },
      scales: {
        x: {
          type: "logarithmic",
          min: 10 ** 2.879,
          max: 10 ** 5.579,
          afterBuildTicks: (s: any) => {
            s.ticks = xTickValues.map((t) => ({ value: 10 ** t }));
          },
          afterFit: fixedBox(31, "height"),
          grid: { display: false },
          border: { display: true, color: AXIS, width: 1.5 },
          ticks: {
            autoSkip: false,
            maxRotation: 0,
            color: TICK_TEXT,
            font: { family: FONT, size: 9.6 },
            padding: 5,
            callback: (_v: any, i: number) => xTickLabels[i],
          },
          title: { display: true, text: "Size, bp", color: "#000", font: { family: FONT, size: 12 }, padding: 0 },
        },
        y: {
          type: "logarithmic",
          min: 10 ** -7.762,
          max: 10 ** -1.388,
          afterBuildTicks: (s: any) => {
            s.ticks = yTickValues.map((t) => ({ value: 10 ** t }));
          },
          afterFit: fixedBox(37, "width"),
          grid: { display: false },
          border: { display: true, color: AXIS, width: 1.5 },
          ticks: {
            autoSkip: false,
            color: TICK_TEXT,
            font: { family: FONT, size: 9.6 },
            padding: 4,
            callback: (_v: any, i: number) => yTickLabels[i],
          },
          title: { display: true, text: "Cumulative relative abundance", color: "#000", font: { family: FONT, size: 12 }, padding: 0 },
        },
      },
    },
    plugins: [logTickPlugin],
  };
};

const panelLabel = (text: string, left: number, top: number) => (
  <div style={{ position: "absolute", left, top, font: `13.5px ${FONT}`, color: "#000", lineHeight: "14px" }}>{text}</div>
);

const legendText = (text: string, left: number, size: number) => (
  <div style={{ position: "absolute", left, top: 546, transform: "translateY(-50%)", font: `${size}px ${FONT}`, color: "#000", whiteSpace: "nowrap" }}>{text}</div>
);

const dot = (left: number, color: string) => (
  <div style={{ position: "absolute", left: left - 7.5, top: 538.5, width: 15, height: 15, boxSizing: "border-box", borderRadius: "50%", background: color, border: "1px solid rgba(0,0,0,0.4)" }} />
);

const swatch = (left: number, color: string, edge: string) => (
  <div style={{ position: "absolute", left, top: 537.5, width: 16, height: 16, boxSizing: "border-box", background: color, border: `1px solid ${edge}` }} />
);

export default function App() {
  const aRef = useChart(scatterConfig);
  const bRef = useChart(() =>
    histogramConfig(scaffoldsFragment, scaffoldsHigh, -1525, 32020, -6.84, 106.8, "No. of scaffolds", 10000, (v) => String(v), 46.3, 31, { left: 3, right: 4.7, top: 22.7, bottom: 0 }),
  );
  const cRef = useChart(() =>
    histogramConfig(abundanceFragment, abundanceHigh, -0.0114, 0.2538, -6.88, 106.5, "Cumulative relative abundance", 0.05, (v) => v.toFixed(2), 38.7, 29, { left: 3, right: 4.7, top: 26, bottom: 0 }),
  );
  return (
    <div style={{ position: "absolute", left: 0, top: 0, width: 800, height: 558, background: "#fff", overflow: "hidden" }}>
      <canvas ref={aRef} width={480} height={522} style={{ position: "absolute", left: 0, top: 0 }} />
      <canvas ref={bRef} width={320} height={280} style={{ position: "absolute", left: 480, top: 0 }} />
      <canvas ref={cRef} width={320} height={242} style={{ position: "absolute", left: 480, top: 280 }} />
      {panelLabel("A", 40, 2)}
      {panelLabel("B", 529, 2)}
      {panelLabel("C", 522, 285)}
      {legendText("miuvig_quality", 130, 11)}
      {dot(215, "rgba(248,118,109,0.5)")}
      {legendText("Genome−fragment", 229, 9.3)}
      {dot(319.7, "rgba(0,191,196,0.5)")}
      {legendText("High−quality", 334, 9.3)}
      {legendText("miuvig_quality", 531.7, 11)}
      {swatch(608, "rgba(248,118,109,0.98)", "rgba(255,190,185,0.75)")}
      {legendText("Genome−fragment", 630.7, 9.3)}
      {swatch(713, "rgba(0,191,196,0.98)", "rgba(150,232,235,0.75)")}
      {legendText("High−quality", 736, 9.3)}
    </div>
  );
}
